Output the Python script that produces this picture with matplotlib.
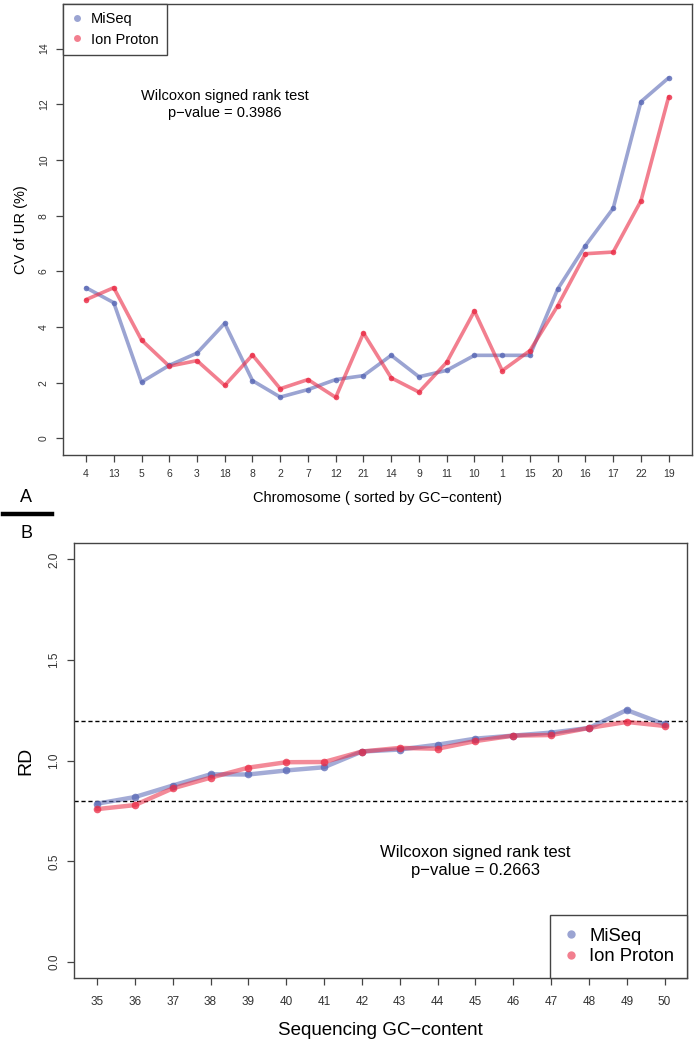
import matplotlib
matplotlib.use("Agg")
import matplotlib.pyplot as plt
from matplotlib.lines import Line2D

plt.rcParams['font.family'] = ['Liberation Sans', 'DejaVu Sans']

# ---------------- Data ----------------
chromosomes = ['4', '13', '5', '6', '3', '18', '8', '2', '7', '12', '21',
               '14', '9', '11', '10', '1', '15', '20', '16', '17', '22', '19']
cv_miseq = [5.41, 4.87, 2.02, 2.62, 3.06, 4.13, 2.07, 1.48, 1.75, 2.11, 2.25,
            2.98, 2.21, 2.44, 2.98, 2.98, 2.98, 5.36, 6.92, 8.26, 12.09, 12.95]
cv_proton = [4.98, 5.41, 3.53, 2.59, 2.79, 1.90, 2.99, 1.78, 2.11, 1.47, 3.78,
             2.17, 1.66, 2.73, 4.57, 2.43, 3.15, 4.76, 6.63, 6.69, 8.53, 12.27]

gc_content = list(range(35, 51))
rd_miseq = [0.787, 0.820, 0.877, 0.933, 0.932, 0.952, 0.968, 1.046, 1.056, 1.080,
            1.110, 1.125, 1.140, 1.163, 1.252, 1.181]
rd_proton = [0.760, 0.780, 0.863, 0.916, 0.966, 0.993, 0.994, 1.046, 1.064, 1.060,
             1.098, 1.125, 1.128, 1.163, 1.193, 1.173]

pval_a = "0.3986"
pval_b = "0.2663"

# ---------------- Style ----------------
BLUE = '#5867B5'
RED = '#EA2A44'
SPINE = '#444444'
TICKC = '#333333'

W, H = 697, 1041
fig = plt.figure(figsize=(W / 100, H / 100), dpi=100)


def ax_rect(l, t, r, b):
    return [l / W, 1 - b / H, (r - l) / W, (b - t) / H]


def style_axes(ax, fs):
    for s in ax.spines.values():
        s.set_color(SPINE)
        s.set_linewidth(1.0)
    ax.tick_params(axis='both', direction='out', length=5, width=0.9,
                   color=SPINE, labelcolor=TICKC, labelsize=fs, pad=5)
    for lab in ax.get_yticklabels():
        lab.set_rotation(90)
        lab.set_va('center')


# ---------------- Panel A ----------------
axA = fig.add_axes(ax_rect(62.7, 4, 692, 455))
xa = list(range(1, len(chromosomes) + 1))
axA.plot(xa, cv_miseq, color=BLUE, lw=2.6, alpha=0.6, solid_capstyle='round', zorder=2)
axA.plot(xa, cv_miseq, 'o', color=BLUE, ms=4, alpha=0.8, mew=0, zorder=3)
axA.plot(xa, cv_proton, color=RED, lw=2.6, alpha=0.6, solid_capstyle='round', zorder=2)
axA.plot(xa, cv_proton, 'o', color=RED, ms=4, alpha=0.8, mew=0, zorder=3)
axA.set_xlim(0.16, 22.84)
axA.set_ylim(-0.6, 15.6)
axA.set_xticks(xa)
axA.set_xticklabels(chromosomes)
axA.set_yticks([0, 2, 4, 6, 8, 10, 12, 14])
style_axes(axA, 7.5)
axA.tick_params(axis='x', pad=5)
axA.set_xlabel('Chromosome ( sorted by GC\u2212content)', fontsize=10.5, labelpad=9)
axA.set_ylabel('CV of UR (%)', fontsize=10.5, labelpad=8)
axA.text(6, 12, 'Wilcoxon signed rank test\np\u2212value = ' + pval_a,
         ha='center', va='center', fontsize=10.5, linespacing=1.25)
hA = [Line2D([], [], ls='none', marker='o', ms=5, color=BLUE, alpha=0.6, mew=0),
      Line2D([], [], ls='none', marker='o', ms=5, color=RED, alpha=0.6, mew=0)]
legA = axA.legend(hA, ['MiSeq', 'Ion Proton'], loc='upper left', borderaxespad=0,
                  fancybox=False, edgecolor=SPINE, framealpha=1, fontsize=10.5,
                  handlelength=0.9, handletextpad=0.5, borderpad=0.55, labelspacing=0.45)
legA.get_frame().set_linewidth(1.0)

# ---------------- Panel B ----------------
axB = fig.add_axes(ax_rect(74.3, 543.3, 687.3, 978.3))
axB.axhline(1.2, color='black', ls=(0, (3, 2)), lw=1.0, zorder=1)
axB.axhline(0.8, color='black', ls=(0, (3, 2)), lw=1.0, zorder=1)
axB.plot(gc_content, rd_miseq, color=BLUE, lw=3.2, alpha=0.55, solid_capstyle='round', zorder=2)
axB.plot(gc_content, rd_miseq, 'o', color=BLUE, ms=5.5, alpha=0.75, mew=0, zorder=3)
axB.plot(gc_content, rd_proton, color=RED, lw=3.2, alpha=0.55, solid_capstyle='round', zorder=2)
axB.plot(gc_content, rd_proton, 'o', color=RED, ms=5.5, alpha=0.75, mew=0, zorder=3)
axB.set_xlim(34.4, 50.6)
axB.set_ylim(-0.08, 2.08)
axB.set_xticks(gc_content)
axB.set_yticks([0.0, 0.5, 1.0, 1.5, 2.0])
axB.set_yticklabels(['0.0', '0.5', '1.0', '1.5', '2.0'])
style_axes(axB, 8.5)
axB.tick_params(axis='x', pad=8)
axB.set_xlabel('Sequencing GC\u2212content', fontsize=13.5, labelpad=10)
axB.set_ylabel('RD', fontsize=14, labelpad=10)
axB.text(45, 0.5, 'Wilcoxon signed rank test\np\u2212value = ' + pval_b,
         ha='center', va='center', fontsize=12, linespacing=1.2)
hB = [Line2D([], [], ls='none', marker='o', ms=6, color=BLUE, alpha=0.6, mew=0),
      Line2D([], [], ls='none', marker='o', ms=6, color=RED, alpha=0.6, mew=0)]
legB = axB.legend(hB, ['MiSeq', 'Ion Proton'], loc='lower right', borderaxespad=0,
                  fancybox=False, edgecolor=SPINE, framealpha=1, fontsize=13.3,
                  handlelength=0.9, handletextpad=0.55, borderpad=0.7, labelspacing=0.2)
legB.get_frame().set_linewidth(1.0)

# ---------------- Panel labels ----------------
fig.text(26 / W, 1 - 497 / H, 'A', ha='center', va='center', fontsize=13)
fig.text(26 / W, 1 - 533 / H, 'B', ha='center', va='center', fontsize=13)
fig.add_artist(Line2D([3 / W, 52 / W], [1 - 514 / H, 1 - 514 / H], color='black', lw=3.2))

fig.savefig('out.png', dpi=100)
